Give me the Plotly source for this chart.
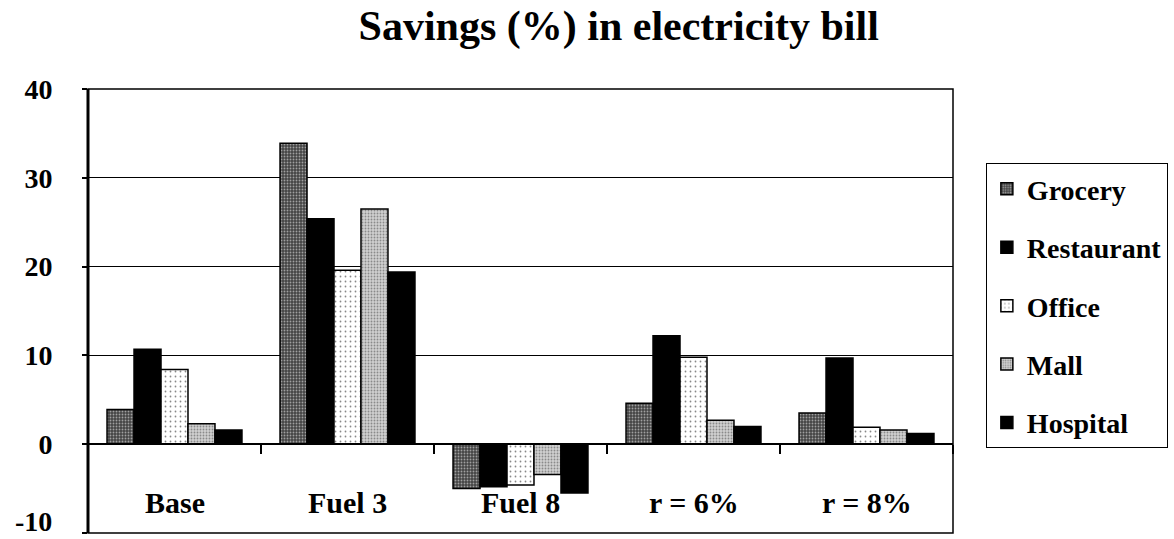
import plotly.graph_objects as go

categories = ["Base", "Fuel 3", "Fuel 8", "r = 6%", "r = 8%"]
grocery = [3.9, 33.9, -5.0, 4.6, 3.5]
restaurant = [10.7, 25.4, -4.8, 12.2, 9.7]
office = [8.4, 19.6, -4.6, 9.8, 1.9]
mall = [2.3, 26.5, -3.4, 2.7, 1.6]
hospital = [1.6, 19.4, -5.5, 2.0, 1.2]
y_ticks = [-10, 0, 10, 20, 30, 40]

FONT = "Liberation Serif"

series = [
    ("Grocery", grocery, dict(bg="#444444", fg="#a0a0a0", size=3, sol=0.3)),
    ("Restaurant", restaurant, dict(bg="#000000", fg="#000000", size=4, sol=0.1)),
    ("Office", office, dict(bg="#ffffff", fg="#888888", size=5, sol=0.1)),
    ("Mall", mall, dict(bg="#d0d0d0", fg="#8a8a8a", size=3, sol=0.3)),
    ("Hospital", hospital, dict(bg="#000000", fg="#000000", size=4, sol=0.1)),
]

fig = go.Figure()
for name, vals, st in series:
    fig.add_trace(go.Bar(
        name="<b>%s</b>" % name, x=categories, y=vals, legendgroup=name,
        marker=dict(
            color=st["bg"],
            line=dict(color="black", width=1.5),
            pattern=dict(shape=".", fgcolor=st["fg"], bgcolor=st["bg"],
                         size=st["size"], solidity=st["sol"], fillmode="replace"),
        ),
    ))

# category labels placed below zero line
for c in categories:
    fig.add_annotation(x=c, y=-6.6, xref="x", yref="y", text="<b>%s</b>" % c,
                       showarrow=False, font=dict(family=FONT, size=30, color="black"))

# lowest y tick label, lifted slightly so it stays inside the page
fig.add_annotation(x=0, y=0, xref="paper", yref="paper", xanchor="right", yanchor="bottom",
                   xshift=-34, yshift=-6, text="<b>%d</b>" % y_ticks[0], showarrow=False,
                   font=dict(family=FONT, size=28, color="black"))

fig.update_layout(
    width=1174, height=539,
    margin=dict(l=88, r=219, t=89, b=6),
    paper_bgcolor="white", plot_bgcolor="white",
    barmode="group", bargap=0.22, bargroupgap=0.0,
    title=dict(text="<b>Savings (%) in electricity bill</b>", x=0.527, xanchor="center",
               y=0.9536, yanchor="middle", yref="container",
               font=dict(family=FONT, size=42, color="black")),
    font=dict(family=FONT, color="black"),
    legend=dict(x=1.038, y=0.833, xanchor="left", yanchor="top",
                bordercolor="black", borderwidth=1, bgcolor="white",
                font=dict(family=FONT, size=28, color="black"),
                traceorder="grouped", tracegroupgap=19),
    xaxis=dict(type="category", anchor="free", position=0.2, showline=True,
               linecolor="black", linewidth=1.5, ticks="outside", tickson="boundaries",
               ticklen=9, tickwidth=1.5, tickcolor="black", showticklabels=False,
               showgrid=False, zeroline=False),
    yaxis=dict(range=[-10, 40], tickvals=y_ticks,
               ticktext=["" if v == y_ticks[0] else "<b>%d</b>" % v for v in y_ticks],
               ticks="outside", ticklen=5, tickwidth=1.5, tickcolor="black",
               tickfont=dict(family=FONT, size=28, color="black"),
               showgrid=True, gridcolor="black", gridwidth=1, zeroline=False,
               showline=False, ticklabelstandoff=24, automargin=False),
    shapes=[
        dict(type="rect", xref="paper", yref="paper", x0=0, x1=1, y0=0, y1=1,
             line=dict(color="black", width=1.5), layer="below"),
        dict(type="line", xref="paper", yref="paper", x0=0, x1=0, y0=0, y1=1,
             line=dict(color="black", width=3)),
    ],
)

fig.write_html("out.html", config={"displayModeBar": False},
               post_script="document.body.style.margin='0';")
